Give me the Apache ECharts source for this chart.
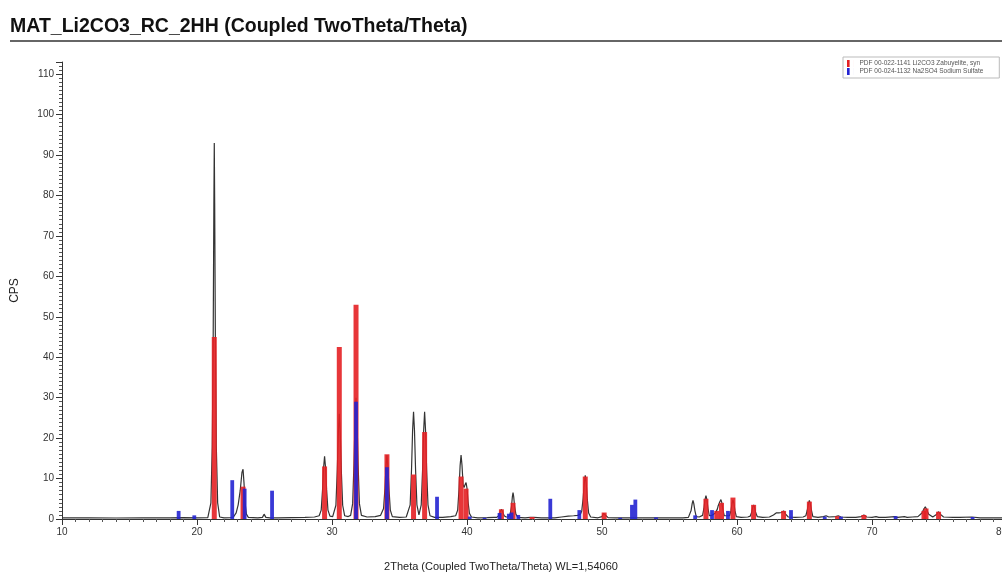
<!DOCTYPE html>
<html>
<head>
<meta charset="utf-8">
<script src="https://cdn.jsdelivr.net/npm/echarts@6/dist/echarts.min.js"></script>
<style>
html,body{margin:0;padding:0;background:#fff;}
#chart{width:1002px;height:578px;}
</style>
</head>
<body>
<div id="chart"></div>
<script>
const TITLE = 'MAT_Li2CO3_RC_2HH (Coupled TwoTheta/Theta)';
const X_NAME = '2Theta (Coupled TwoTheta/Theta) WL=1,54060';
const Y_NAME = 'CPS';
const PHASE_LI = 'PDF 00-022-1141 Li2CO3 Zabuyelite, syn';
const PHASE_NA = 'PDF 00-024-1132 Na2SO4 Sodium Sulfate';

// measured pattern [2theta, cps]
const measured = [
 [10,0.3],[12,0.3],[14,0.25],[16,0.3],[18,0.3],[19,0.35],[20,0.3],[20.8,0.35],
 [20.88,0.5],[21.03,4],[21.13,18],[21.2,45],[21.25,78],[21.28,93],[21.31,78],[21.36,45],[21.43,18],[21.53,4],[21.68,0.5],
 [22,0.3],[22.5,0.35],
 [22.7,0.5],[22.9,1.5],[23.05,3.5],[23.2,7],[23.33,11.5],[23.41,12.3],[23.48,9],[23.56,4],[23.66,1.2],[23.8,0.4],
 [24.5,0.3],[24.85,0.4],[24.97,1.2],[25.1,0.4],[25.4,0.3],[26,0.3],[27,0.35],[28,0.4],[28.7,0.5],
 [29.05,0.8],[29.2,2.2],[29.3,7.2],[29.38,12.8],[29.45,15.5],[29.52,12.8],[29.6,7.2],[29.7,2.2],[29.85,0.7],
 [30.05,0.6],
 [30.14,0.9],[30.29,3.4],[30.39,12],[30.47,21.5],[30.54,26],[30.61,21.5],[30.69,12],[30.79,3.4],[30.94,0.8],
 [31.2,0.6],
 [31.38,0.9],[31.53,3.8],[31.63,13.8],[31.71,24.8],[31.78,30],[31.85,24.8],[31.93,13.8],[32.03,3.8],[32.18,0.9],
 [32.6,0.5],[33.2,0.6],[33.6,0.9],
 [33.67,1.2],[33.82,2.6],[33.92,7.4],[34.0,13],[34.07,15.8],[34.14,13],[34.22,7.4],[34.32,2.2],[34.47,0.6],
 [35,0.4],[35.5,0.5],
 [35.64,0.8],[35.79,3.5],[35.89,12.2],[35.97,21.9],[36.04,26.5],[36.11,21.9],[36.19,12.2],[36.29,3.5],[36.44,1.0],
 [36.46,1.0],[36.61,3.5],[36.71,12.2],[36.79,21.9],[36.86,26.5],[36.93,21.9],[37.01,12.2],[37.11,3.5],[37.26,0.8],
 [37.6,0.4],[38.2,0.4],[38.8,0.6],
 [39.16,0.8],[39.31,2.2],[39.41,7.4],[39.49,13.2],[39.56,15.8],[39.63,13.3],[39.71,8.5],[39.78,7.8],[39.86,8.5],[39.93,9],[40.0,7.6],[40.08,4.2],[40.18,1.4],[40.33,0.5],
 [40.8,0.3],[41.5,0.35],[42.0,0.4],
 [42.2,0.4],[42.35,0.8],[42.45,1.7],[42.55,2.4],[42.65,1.7],[42.75,0.8],[42.9,0.5],
 [43.05,0.5],[43.2,1.2],[43.3,3.2],[43.36,5.5],[43.41,6.5],[43.46,5.5],[43.52,3.2],[43.62,1.2],[43.77,0.4],
 [44.3,0.3],[44.7,0.4],[44.82,0.7],[44.95,0.4],[45.5,0.3],[46.5,0.3],[47,0.5],[47.5,0.7],[47.9,0.8],[48.2,0.9],[48.4,1.2],
 [48.5,2],[48.6,5],[48.69,8.9],[48.76,10.8],[48.83,8.9],[48.91,4.9],[49.01,1.5],[49.16,0.5],
 [49.7,0.3],[50.0,0.6],[50.12,1.4],[50.2,1.5],[50.3,0.8],[50.45,0.35],
 [51,0.3],[52,0.3],[53,0.3],[54,0.3],[55,0.3],[56,0.3],[56.4,0.4],
 [56.5,0.8],[56.6,2.1],[56.68,3.8],[56.74,4.6],[56.8,3.8],[56.88,2.1],[56.98,0.6],
 [57.2,0.5],
 [57.45,0.9],[57.55,2.6],[57.63,4.8],[57.7,5.8],[57.77,4.8],[57.85,2.6],[57.95,0.8],
 [58.15,0.9],[58.4,1.5],[58.55,2.5],
 [58.6,3.2],[58.72,4.2],[58.81,4.8],[58.88,4],[58.96,2.2],[59.06,0.8],[59.2,0.5],
 [59.45,0.8],[59.55,2],[59.63,3.9],[59.7,4.7],[59.77,3.9],[59.85,2],[59.95,0.6],
 [60.3,0.4],[60.8,0.5],
 [60.98,0.7],[61.08,1.6],[61.16,2.9],[61.23,3.5],[61.3,2.9],[61.38,1.6],[61.5,0.6],
 [61.9,0.4],[62.4,0.5],[62.7,1],[62.9,1.5],[63.1,1.5],[63.3,1.6],[63.45,2],[63.6,1.2],[63.8,0.5],[64.3,0.4],[64.9,0.5],
 [65.1,0.8],[65.2,2.1],[65.29,3.8],[65.36,4.6],[65.43,3.8],[65.52,2.1],[65.62,0.6],
 [66,0.4],[66.4,0.6],[66.6,0.8],[66.8,0.5],[67.3,0.6],[67.5,0.8],[67.7,0.5],[68.2,0.4],[68.8,0.4],[69.2,0.6],[69.4,1],[69.6,0.5],
 [70.0,0.4],[70.3,0.6],[70.5,0.4],[71,0.4],[71.7,0.6],[71.9,0.4],[72.4,0.6],[72.6,0.4],[73.0,0.5],[73.4,0.6],
 [73.7,1.5],[73.85,2.5],[73.95,3],[74.05,2.6],[74.2,1.2],[74.5,0.5],[74.8,1.2],[74.93,1.8],[75.05,1.2],[75.3,0.5],
 [76,0.4],[76.5,0.4],[77.4,0.5],[78,0.3],[79,0.3],[80,0.3]
];

// reference stick pattern Li2CO3 [2theta, cps]
const li2co3 = [
 [21.28,45],[23.41,8],[29.45,13],[30.54,42.5],[31.78,53],[34.07,16],[36.04,11],[36.86,21.5],
 [39.56,10.5],[39.93,7.5],[42.55,2.4],[43.41,4],[44.82,0.5],[48.76,10.5],[50.16,1.6],
 [57.7,5],[58.5,2],[58.85,4],[59.7,5.3],[61.23,3.5],[63.45,2],[65.36,4.3],[67.45,0.7],
 [69.4,1],[73.85,2],[74.0,2.6],[74.93,1.8]
];

// reference stick pattern Na2SO4 [2theta, cps]
const na2so4 = [
 [18.64,2],[19.8,0.9],[22.61,9.6],[23.53,7.5],[25.56,7],[31.78,29],[34.07,12.8],[37.78,5.5],
 [40.2,0.6],[41.3,0.3],[42.41,1.5],[43.1,1.3],[43.3,1.6],[43.8,1],[46.17,5],[48.32,2.2],
 [51.35,0.3],[52.22,3.5],[52.47,4.8],[54.0,0.4],[56.9,0.9],[58.15,2.2],[59.33,2],[64.0,2.2],
 [66.5,0.6],[67.7,0.6],[71.75,0.7],[77.45,0.5]
];

const chart = echarts.init(document.getElementById('chart'), null, {renderer:'canvas'});

function stick(width, color){
  return function(params, api){
    const x = api.value(0), y = api.value(1);
    const p0 = api.coord([x, 0]);
    const p1 = api.coord([x, y]);
    return {
      type:'rect',
      shape:{x:p0[0]-width/2, y:p1[1], width:width, height:p0[1]-p1[1]},
      style:{fill:color}
    };
  };
}

const FONT = 'Liberation Sans, Arial, sans-serif';
const LEGEND_ICON = 'path://M0,0h3v8h-3zM7.98,0h0.02v8h-0.02z';

chart.setOption({
  animation:false,
  backgroundColor:'#fff',
  textStyle:{fontFamily:FONT},
  title:{
    text:TITLE, left:10, top:17, padding:0,
    textStyle:{fontFamily:FONT, fontSize:19.5, fontWeight:'bold', color:'#111'}
  },
  graphic:[
    {type:'line', shape:{x1:10,y1:41,x2:1002,y2:41}, style:{stroke:'#333', lineWidth:1.3}},
    {type:'text', x:501, y:567, style:{text:X_NAME, fontFamily:FONT, fontSize:11, fill:'#222', align:'center', verticalAlign:'middle'}}
  ],
  legend:{
    data:[
      {name:PHASE_LI, icon:LEGEND_ICON},
      {name:PHASE_NA, icon:LEGEND_ICON}
    ],
    orient:'vertical', left:843, top:57,
    itemWidth:8, itemHeight:7, itemGap:1,
    padding:[3,16,3,4],
    borderColor:'#bbb', borderWidth:1, backgroundColor:'#fff',
    textStyle:{fontSize:6.5, color:'#555', fontFamily:FONT}
  },
  grid:{left:62, right:-5, top:62, bottom:59, outerBoundsMode:'none'},
  xAxis:{
    type:'value', min:10, max:80, interval:10,
    axisLine:{lineStyle:{color:'#333', width:1}},
    axisTick:{show:true, length:6, lineStyle:{color:'#333'}},
    minorTick:{show:true, splitNumber:10, length:3, lineStyle:{color:'#555'}},
    splitLine:{show:false},
    axisLabel:{fontSize:10, color:'#333', margin:8, showMaxLabel:true, alignMaxLabel:'right', hideOverlap:false, fontFamily:FONT}
  },
  yAxis:{
    type:'value', min:0, max:113, interval:10,
    name:Y_NAME, nameLocation:'middle', nameGap:41,
    nameTextStyle:{fontSize:12, color:'#222', fontFamily:FONT},
    axisLine:{show:true, lineStyle:{color:'#333', width:1}},
    axisTick:{show:true, length:6, lineStyle:{color:'#333'}},
    minorTick:{show:true, splitNumber:10, length:3, lineStyle:{color:'#555'}},
    splitLine:{show:false},
    axisLabel:{fontSize:10, color:'#333', margin:8, showMaxLabel:false, fontFamily:FONT}
  },
  series:[
    {
      type:'line', name:'measured', data:measured, showSymbol:false, symbol:'none',
      lineStyle:{color:'#333', width:1.2}, z:2, clip:true
    },
    {
      type:'custom', name:PHASE_LI, data:li2co3, renderItem:stick(5,'rgba(228,32,36,0.9)'),
      itemStyle:{color:'#e42024'}, encode:{x:0,y:1}, z:3, clip:true
    },
    {
      type:'custom', name:PHASE_NA, data:na2so4, renderItem:stick(3.8,'rgba(36,36,210,0.9)'),
      itemStyle:{color:'#2424d2'}, encode:{x:0,y:1}, z:4, clip:true
    }
  ]
});
</script>
</body>
</html>
